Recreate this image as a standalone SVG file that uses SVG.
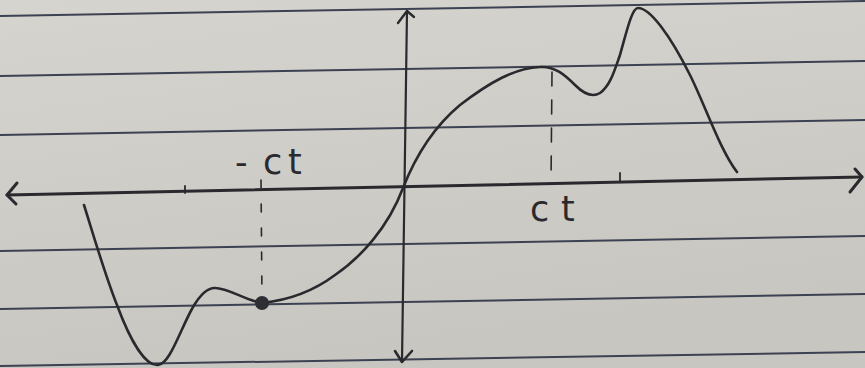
<svg xmlns="http://www.w3.org/2000/svg" width="865" height="368" viewBox="0 0 865 368">
  <defs>
    <linearGradient id="paper" x1="0" y1="0" x2="0.3" y2="1">
      <stop offset="0" stop-color="#d6d4cf"/>
      <stop offset="1" stop-color="#c8c6c1"/>
    </linearGradient>
    <style>
      .rule { stroke: #3c4252; stroke-width: 2; fill: none; }
      .ink { stroke: #2a2a2e; fill: none; stroke-linecap: round; stroke-linejoin: round; }
      .axis { stroke-width: 3; }
      .curve { stroke-width: 2.6; }
      .dash { stroke-width: 1.6; }
      .lbl { font-family: "DejaVu Sans", "Liberation Sans", sans-serif; font-size: 35px; fill: #2a2a2e; }
    </style>
  </defs>

  <rect width="865" height="368" fill="url(#paper)"/>

  <g id="ruled-lines">
    <line class="rule" x1="0" y1="16" x2="865" y2="1"/>
    <line class="rule" x1="0" y1="76" x2="865" y2="61"/>
    <line class="rule" x1="0" y1="135" x2="865" y2="120"/>
    <line class="rule" x1="0" y1="251" x2="865" y2="236"/>
    <line class="rule" x1="0" y1="309" x2="865" y2="294"/>
    <line class="rule" x1="0" y1="366" x2="865" y2="352"/>
  </g>

  <g id="axes">
    <line class="ink axis" x1="7" y1="195" x2="862" y2="177"/>
    <polyline class="ink axis" points="17,183 7,195 16,204"/>
    <polyline class="ink axis" points="855,169 862,177 850,192"/>
    <line class="ink" stroke-width="2.2" x1="407" y1="11" x2="402" y2="362"/>
    <polyline class="ink" stroke-width="2.4" points="398,23 407,11 414,17"/>
    <polyline class="ink" stroke-width="2.6" points="395,351 402,362 412,351"/>
    <line class="ink" stroke-width="1.8" x1="185" y1="186" x2="185" y2="193"/>
    <line class="ink" stroke-width="1.8" x1="620" y1="173" x2="620" y2="181"/>
  </g>

  <g id="guides">
    <line class="ink dash" x1="261" y1="180" x2="262" y2="300" stroke-dasharray="8 16"/>
    <line class="ink dash" x1="552" y1="72" x2="551" y2="184" stroke-dasharray="14 14"/>
  </g>

  <g id="curve">
    <path class="ink curve" d="M84,205 C95,240 105,275 117,305 C130,340 145,366 158,365 C170,364 180,330 193,307 C200,295 207,287 216,288 C230,289 245,300 262,303 C290,300 315,290 335,275 C360,258 388,228 403,188 C414,160 430,130 460,105 C490,82 515,68 540,67 C555,66 565,75 575,85 C584,94 592,98 600,93 C610,86 614,72 620,55 C627,30 632,8 638,8 C650,8 670,35 690,75 C705,105 720,150 737,172"/>
    <circle cx="262" cy="303" r="7" fill="#2e2e33"/>
  </g>

  <g id="labels">
    <text class="lbl" x="235" y="174" font-size="40">-</text>
    <text class="lbl" x="263" y="174">c</text>
    <text class="lbl" x="288" y="174">t</text>
    <text class="lbl" x="530" y="221">c</text>
    <text class="lbl" x="561" y="221">t</text>
  </g>
</svg>
